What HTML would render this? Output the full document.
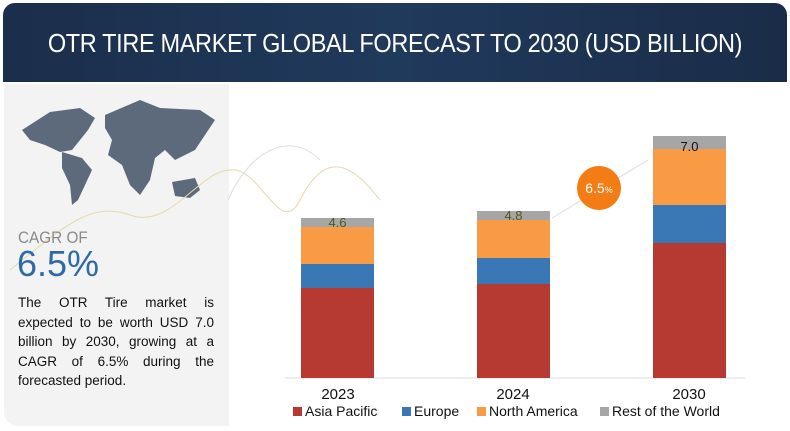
<!DOCTYPE html>
<html><head><style>
body{margin:0;width:790px;height:431px;background:#fff;position:relative;overflow:hidden;font-family:"Liberation Sans",sans-serif}
.a{position:absolute}
.hdr{left:3px;top:3px;width:784px;height:79px;border-radius:12px 12px 0 0;background:linear-gradient(90deg,#1b2e4b,#203a5c 50%,#1a2c48);}
.hdr span{position:absolute;left:0;right:0;top:25px;text-align:center;color:#fff;font-size:26px;letter-spacing:-0.4px;transform:scaleX(0.905)}
.left{left:4px;top:84px;width:225px;height:342px;background:#f3f3f3;border-radius:0 0 0 14px}
.bar div{position:absolute;left:0;width:100%}
.yr{font-size:15px;color:#111;width:80px;text-align:center}
.lg{top:403px;font-size:14px;color:#111}
.lg i{display:inline-block;width:9px;height:9px;margin-right:3px}
</style></head><body>
<div class="a hdr"><span>OTR TIRE MARKET GLOBAL FORECAST TO 2030 (USD BILLION)</span></div>
<div class="a left"></div>
<svg class="a" style="left:0;top:0" width="790" height="431">
<path d="M22 130 L50 112 L80 108 L95 118 L88 130 L80 140 L72 150 L60 152 L45 145 L30 140 Z" fill="#5d6a7c"/>
<path d="M62 152 L82 158 L92 170 L85 185 L78 200 L72 205 L70 185 L62 168 Z" fill="#5d6a7c"/>
<path d="M105 115 L140 100 L160 108 L200 110 L215 120 L205 135 L195 150 L175 160 L165 150 L155 158 L150 180 L140 195 L130 185 L122 165 L108 155 L112 140 L105 128 Z" fill="#5d6a7c"/>
<path d="M172 182 L195 178 L200 190 L190 198 L175 196 Z" fill="#5d6a7c"/>
<path d="M10 270 C60 230 90 200 130 215 C170 230 200 170 230 170 C260 165 280 240 300 200 C330 140 360 175 380 200" stroke="#e6d9a8" fill="none" stroke-width="1"/>
<path d="M228 200 C250 150 290 130 320 160" stroke="#ddd" fill="none"/>
<line x1="285" y1="378" x2="745" y2="378" stroke="#ddd"/>
<line x1="552" y1="218" x2="648" y2="160" stroke="#ddd"/>
<circle cx="599" cy="188" r="22" fill="#f47c14"/>
<text x="599" y="193" fill="#fff" font-size="14" text-anchor="middle" font-family="Liberation Sans">6.5<tspan font-size="9">%</tspan></text>
</svg>
<div class="a" style="left:18px;top:228px;font-size:17px;color:#8a8a8a;transform:scaleX(0.9);transform-origin:left">CAGR OF</div>
<div class="a" style="left:17px;top:243px;font-size:36px;color:#2f6aa8">6.5%</div>
<div class="a" style="left:18px;top:293px;width:196px;font-size:13.5px;line-height:19.5px;color:#111;text-align:justify">The OTR Tire market is expected to be worth USD 7.0 billion by 2030, growing at a CAGR of 6.5% during the forecasted period.</div>

<div class="a bar" style="left:301px;top:218px;width:73px;height:160px">
<div style="top:0;height:9px;background:#a6a6a6"></div><div style="top:9px;height:37px;background:#f99a45"></div><div style="top:46px;height:24px;background:#3a78b5"></div><div style="top:70px;height:90px;background:#b73a32"></div></div>
<div class="a" style="left:301px;top:215px;width:73px;text-align:center;font-size:13px;color:#4b5a22">4.6</div>
<div class="a bar" style="left:477px;top:211px;width:73px;height:167px">
<div style="top:0;height:9px;background:#a6a6a6"></div><div style="top:9px;height:38px;background:#f99a45"></div><div style="top:47px;height:26px;background:#3a78b5"></div><div style="top:73px;height:94px;background:#b73a32"></div></div>
<div class="a" style="left:477px;top:208px;width:73px;text-align:center;font-size:13px;color:#4b5a22">4.8</div>
<div class="a bar" style="left:653px;top:136px;width:73px;height:242px">
<div style="top:0;height:13px;background:#a6a6a6"></div><div style="top:13px;height:56px;background:#f99a45"></div><div style="top:69px;height:38px;background:#3a78b5"></div><div style="top:107px;height:135px;background:#b73a32"></div></div>
<div class="a" style="left:653px;top:139px;width:73px;text-align:center;font-size:13px;color:#111">7.0</div>

<div class="a yr" style="left:298px;top:386px">2023</div>
<div class="a yr" style="left:473px;top:386px">2024</div>
<div class="a yr" style="left:649px;top:386px">2030</div>
<div class="a lg" style="left:293px"><i style="background:#b73a32"></i>Asia Pacific</div>
<div class="a lg" style="left:402px"><i style="background:#3a78b5"></i>Europe</div>
<div class="a lg" style="left:477px"><i style="background:#f99a45"></i>North America</div>
<div class="a lg" style="left:600px"><i style="background:#a6a6a6"></i>Rest of the World</div>
</body></html>
